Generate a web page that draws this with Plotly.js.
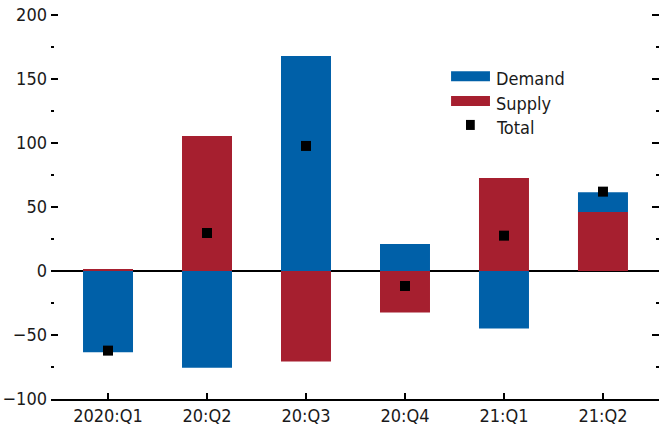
<!DOCTYPE html>
<html>
<head>
<meta charset="utf-8">
<script src="https://cdn.plot.ly/plotly-3.0.1.min.js"></script>
<style>html,body{margin:0;padding:0;background:#fff;}#chart{width:659px;height:431px;}</style>
</head>
<body>
<div id="chart"></div>
<script>
const categories = ['2020:Q1', '20:Q2', '20:Q3', '20:Q4', '21:Q1', '21:Q2'];
const demand = [-63.5, -75.5, 168, 21, -45, 15.5];
const supply = [1.6, 105.5, -70.8, -32.5, 72.7, 46];
const total = [-62.2, 29.7, 97.7, -11.7, 27.6, 62];
const legendLabels = ['Demand', 'Supply', 'Total'];

const BLUE = '#0060A8';
const RED = '#A61F2F';
const FONT = '"DejaVu Sans Condensed", "Liberation Sans Narrow", "Arial Narrow", sans-serif';
const FS = 18;

const traces = [
  {type: 'bar', name: 'Supply', x: categories, y: supply, marker: {color: RED, line: {width: 0}}, showlegend: false, hoverinfo: 'skip'},
  {type: 'bar', name: 'Demand', x: categories, y: demand, marker: {color: BLUE, line: {width: 0}}, showlegend: false, hoverinfo: 'skip'},
  {type: 'scatter', mode: 'markers', name: 'Total', x: categories, y: total,
   marker: {symbol: 'square', size: 10, color: '#000'}, showlegend: false, hoverinfo: 'skip', cliponaxis: false}
];

// Plot top at 13px so the 200 tick (y=15) is not at the very edge and stays drawn
const layout = {
  width: 659, height: 431,
  margin: {l: 51, r: 0, t: 13, b: 32, pad: 0},
  paper_bgcolor: '#fff', plot_bgcolor: '#fff',
  font: {family: FONT, size: FS, color: '#1a1a1a'},
  barmode: 'relative',
  bargap: 0.495,
  showlegend: false,
  xaxis: {
    type: 'category',
    range: [-0.576, 5.566],
    showgrid: false, zeroline: false,
    showline: true, linecolor: '#000', linewidth: 1.5,
    ticks: 'inside', ticklen: 6, tickwidth: 1.2, tickcolor: '#000',
    tickfont: {family: FONT, size: FS, color: '#1a1a1a'},
    fixedrange: true
  },
  yaxis: {
    range: [-100, 201.56],
    tickvals: [-100, -50, 0, 50, 100, 150, 200],
    ticktext: ['\u2212100', '\u221250', '0', '50', '100', '150', '200'],
    showgrid: false,
    zeroline: true, zerolinecolor: '#000', zerolinewidth: 1.2,
    showline: false,
    ticks: 'inside', ticklen: 7, tickwidth: 1.2, tickcolor: '#000',
    mirror: 'ticks',
    minor: {tickvals: [-75, -25, 25, 75, 125, 175], ticks: 'inside', ticklen: 3, tickwidth: 1.2, tickcolor: '#000', showgrid: false},
    tickfont: {family: FONT, size: FS, color: '#1a1a1a'},
    ticklabelstandoff: 3,
    fixedrange: true
  },
  shapes: [
    {type: 'rect', xref: 'paper', yref: 'paper', x0: 0.658, x1: 0.722, y0: 0.823, y1: 0.849, fillcolor: BLUE, line: {width: 0}},
    {type: 'rect', xref: 'paper', yref: 'paper', x0: 0.658, x1: 0.722, y0: 0.759, y1: 0.785, fillcolor: RED, line: {width: 0}},
    {type: 'rect', xref: 'paper', yref: 'paper', x0: 0.6826, x1: 0.697, y0: 0.697, y1: 0.723, fillcolor: '#000', line: {width: 0}}
  ],
  annotations: [
    {xref: 'paper', yref: 'paper', x: 0.7286, y: 0.831, xanchor: 'left', yanchor: 'middle', text: legendLabels[0], showarrow: false, font: {family: FONT, size: FS, color: '#1a1a1a'}},
    {xref: 'paper', yref: 'paper', x: 0.7286, y: 0.766, xanchor: 'left', yanchor: 'middle', text: legendLabels[1], showarrow: false, font: {family: FONT, size: FS, color: '#1a1a1a'}},
    {xref: 'paper', yref: 'paper', x: 0.7286, y: 0.703, xanchor: 'left', yanchor: 'middle', text: legendLabels[2], showarrow: false, font: {family: FONT, size: FS, color: '#1a1a1a'}}
  ]
};

Plotly.newPlot('chart', traces, layout, {staticPlot: true, displayModeBar: false});
</script>
</body>
</html>
